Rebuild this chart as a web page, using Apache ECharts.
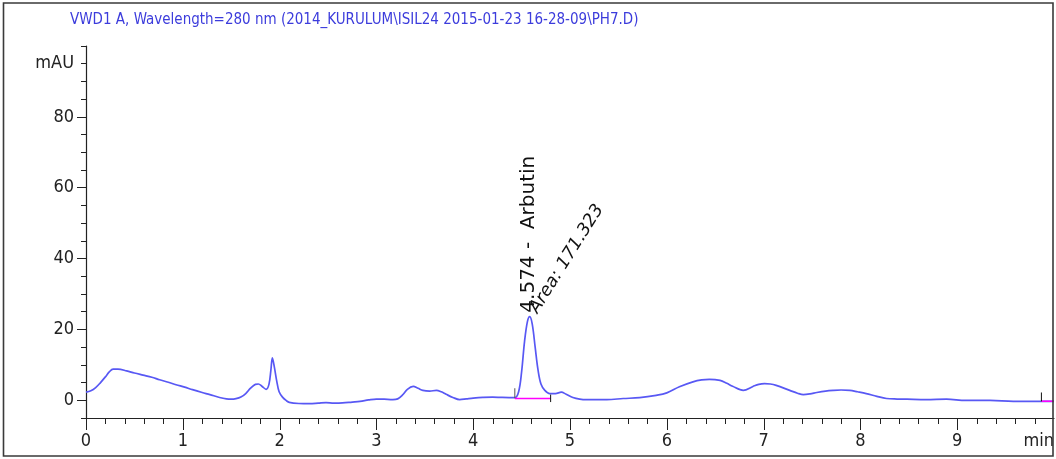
<!DOCTYPE html>
<html>
<head>
<meta charset="utf-8">
<script src="https://cdn.jsdelivr.net/npm/echarts@6/dist/echarts.min.js"></script>
<style>html,body{margin:0;padding:0;background:#fff;}#c{width:1056px;height:459px;}</style>
</head>
<body>
<div id="c"></div>
<script>
const titleText = 'VWD1 A, Wavelength=280 nm (2014_KURULUM\\ISIL24 2015-01-23 16-28-09\\PH7.D)';
const timeMin = [0.00,0.05,0.10,0.15,0.20,0.24,0.28,0.33,0.42,0.50,0.59,0.68,0.76,0.85,0.93,1.02,1.10,1.20,1.28,1.38,1.45,1.50,1.55,1.60,1.65,1.70,1.75,1.78,1.82,1.86,1.89,1.91,1.925,1.945,1.97,1.995,2.03,2.07,2.10,2.20,2.31,2.40,2.48,2.56,2.65,2.75,2.83,2.92,3.00,3.08,3.17,3.22,3.27,3.32,3.38,3.43,3.48,3.55,3.62,3.67,3.72,3.79,3.86,3.93,4.00,4.10,4.20,4.30,4.43,4.47,4.50,4.53,4.56,4.584,4.61,4.64,4.67,4.70,4.74,4.79,4.85,4.91,4.96,5.03,5.10,5.17,5.28,5.38,5.55,5.72,5.89,6.00,6.13,6.27,6.36,6.44,6.55,6.62,6.68,6.79,6.89,6.95,7.01,7.07,7.13,7.27,7.35,7.41,7.48,7.55,7.64,7.72,7.80,7.89,7.97,8.06,8.17,8.27,8.38,8.48,8.68,8.89,9.09,9.34,9.58,9.87,10.0];
const mAU = [2.3,2.7,3.6,5.0,6.6,8.0,8.8,8.8,8.3,7.7,7.1,6.5,5.8,5.1,4.4,3.7,3.0,2.2,1.6,0.8,0.4,0.3,0.45,0.9,1.9,3.4,4.5,4.6,3.9,3.1,4.5,8.5,12.0,9.5,5.5,2.4,0.9,-0.1,-0.6,-0.9,-0.95,-0.8,-0.66,-0.8,-0.75,-0.5,-0.3,0.1,0.35,0.3,0.2,0.4,1.5,3.1,3.9,3.4,2.8,2.6,2.8,2.4,1.7,0.8,0.2,0.4,0.6,0.8,0.9,0.8,0.75,2.5,8.0,16.5,22.2,23.6,21.5,15.0,8.5,4.6,2.8,1.9,1.9,2.3,1.7,0.8,0.35,0.2,0.2,0.2,0.5,0.75,1.4,2.1,3.8,5.2,5.75,5.9,5.6,4.8,3.95,2.8,3.9,4.5,4.7,4.6,4.2,2.8,2.0,1.6,1.8,2.2,2.6,2.8,2.9,2.8,2.4,1.9,1.1,0.5,0.35,0.3,0.2,0.3,-0.05,-0.05,-0.3,-0.3,-0.3];
const xTickLabels = ['0','1','2','3','4','5','6','7','8','9','min'];
const xTickValues = [0,0.2,0.4,0.6,0.8,1,1.2,1.4,1.6,1.8,2,2.2,2.4,2.6,2.8,3,3.2,3.4,3.6,3.8,4,4.2,4.4,4.6,4.8,5,5.2,5.4,5.6,5.8,6,6.2,6.4,6.6,6.8,7,7.2,7.4,7.6,7.8,8,8.2,8.4,8.6,8.8,9,9.2,9.4,9.6,9.8];
const yTickLabels = {0:'0',20:'20',40:'40',60:'60',80:'80',95:'mAU'};
const peakName = 'Arbutin';
const peakRT = 4.574;
const peakApex = 23.6;
const peakArea = '171.323';
const baselineStart = [4.43, 0.5];
const baselineEnd = [4.80, 0.5];
const startTick = [[4.43, 0.6],[4.43, 3.4]];
const endTick = [[4.80, 1.6],[4.80, -0.5]];
const tailTick = [[9.87, -0.3],[9.87, 2.2]];
const tailBase = [[9.87, -0.3],[10.0, -0.3]];
const yMin = -5, yMax = 100, xMin = 0, xMax = 10;

const narrow = "'DejaVu Sans Condensed','Liberation Sans Narrow',sans-serif";
const chart = echarts.init(document.getElementById('c'), null, {renderer:'canvas'});
const axisCol = '#222';
const option = {
  animation:false,
  backgroundColor:'#fff',
  title:{text:titleText,left:65,top:8,textStyle:{color:'#3c3cdc',fontSize:15,fontWeight:'normal',fontFamily:narrow}},
  graphic:[{type:'rect',shape:{x:3.5,y:3,width:1049.5,height:453},style:{fill:'none',stroke:'#3a3a3a',lineWidth:1.6},z:100}],
  grid:{left:86,right:2,top:46,bottom:41,containLabel:false,outerBoundsMode:'none'},
  xAxis:[
    {type:'value',min:xMin,max:xMax,interval:1,
     axisLine:{show:true,onZero:false,lineStyle:{color:axisCol,width:1.2}},
     axisTick:{show:false},
     axisLabel:{show:true,margin:14,color:axisCol,fontSize:18,fontFamily:narrow,alignMaxLabel:'right',
       formatter:(v)=>xTickLabels[Math.round(v)]},
     splitLine:{show:false}}
  ],
  yAxis:[
    {type:'value',min:yMin,max:yMax,interval:5,position:'left',
     axisLine:{show:true,onZero:false,lineStyle:{color:axisCol,width:1.2}},
     axisTick:{show:true,inside:false,length:5,lineStyle:{color:axisCol}},
     axisLabel:{show:true,margin:12,color:axisCol,fontSize:18,fontFamily:narrow,
       formatter:(v)=>{const k=Math.round(v);return yTickLabels[k]!==undefined?yTickLabels[k]:'';}},
     splitLine:{show:false}},
    {type:'value',min:yMin,max:yMax,interval:5,position:'left',
     axisLine:{show:false,onZero:false},axisTick:{show:true,inside:false,length:9,customValues:[0,20,40,60,80],lineStyle:{color:axisCol}},
     axisLabel:{show:false},splitLine:{show:false}}
  ],
  series:[
    {type:'line',name:'VWD1 A',data:timeMin.map((t,i)=>[t,mAU[i]]),showSymbol:false,smooth:0.35,
     lineStyle:{color:'#5858f4',width:1.7},z:5,
     markPoint:{symbol:'circle',symbolSize:0,silent:true,
       data:[
        {coord:[peakRT,peakApex],label:{show:true,formatter:peakRT.toFixed(3)+' -  '+peakName,rotate:90,position:[0,-4],align:'left',verticalAlign:'middle',color:'#111',fontSize:20,fontFamily:"'DejaVu Sans',sans-serif"}},
        {coord:[peakRT,peakApex],label:{show:true,formatter:'Area: '+peakArea,rotate:58,position:[5,-5],align:'left',verticalAlign:'middle',color:'#111',fontSize:17.5,fontStyle:'italic',fontFamily:"'DejaVu Sans',sans-serif"}}
       ]}},
    {type:'line',data:[baselineStart,baselineEnd],showSymbol:false,lineStyle:{color:'#ff00ff',width:1.5},z:6},
    {type:'line',data:tailBase,showSymbol:false,lineStyle:{color:'#ff00ff',width:1.5},z:6},
    {type:'line',data:startTick,showSymbol:false,lineStyle:{color:'#555',width:1},z:7},
    {type:'line',data:endTick,showSymbol:false,lineStyle:{color:'#111',width:1},z:7},
    {type:'line',data:tailTick,showSymbol:false,lineStyle:{color:'#111',width:1},z:7},
    {type:'custom',name:'xticks',coordinateSystem:'cartesian2d',clip:false,silent:true,zlevel:1,
     data:xTickValues.map(t=>[t,yMin]),encode:{x:0,y:1},
     renderItem:(params,api)=>{
       const t = api.value(0);
       const p = api.coord([t, api.value(1)]);
       const major = Math.abs(t-Math.round(t))<1e-6;
       const x = Math.round(p[0])+0.5;
       return {type:'line',shape:{x1:x,y1:p[1],x2:x,y2:p[1]+(major?12:6)},style:{stroke:axisCol,lineWidth:1}};
     }}
  ]
};
chart.setOption(option);
</script>
</body>
</html>
